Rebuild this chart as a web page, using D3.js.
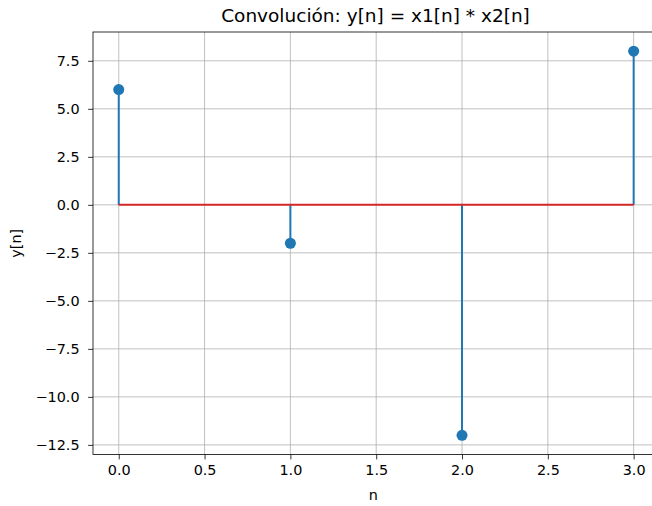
<!DOCTYPE html>
<html><head><meta charset="utf-8">
<script src="https://cdn.jsdelivr.net/npm/d3@7"></script>
<style>body{margin:0;background:#fff;}svg{display:block;font-family:"DejaVu Sans",sans-serif;}</style>
</head><body>
<svg id="c" width="652" height="506"></svg>
<script>
const nValues = [0, 1, 2, 3];
const yValues = [6, -2, -12, 8];
const xTicks = [0.0, 0.5, 1.0, 1.5, 2.0, 2.5, 3.0];
const yTicks = [-12.5, -10.0, -7.5, -5.0, -2.5, 0.0, 2.5, 5.0, 7.5];
const titleText = "Convolución: y[n] = x1[n] * x2[n]";
const xLabel = "n";
const yLabel = "y[n]";

const svg = d3.select("#c");
const L = 93, R = 659.4, T = 32, B = 454.5;
const x = d3.scaleLinear().domain([-0.15, 3.15]).range([L, R]);
const y = d3.scaleLinear().domain([-13, 9]).range([B, T]);
const blue = "#1f77b4";

const g = svg.append("g");
// grid
g.selectAll(".gx").data(xTicks).enter().append("line")
  .attr("x1", d => x(d)).attr("x2", d => x(d)).attr("y1", T).attr("y2", B)
  .attr("stroke", "#b0b0b0").attr("stroke-width", 0.8);
g.selectAll(".gy").data(yTicks).enter().append("line")
  .attr("x1", L).attr("x2", R).attr("y1", d => y(d)).attr("y2", d => y(d))
  .attr("stroke", "#b0b0b0").attr("stroke-width", 0.8);

// stems
g.selectAll(".stem").data(nValues).enter().append("line")
  .attr("x1", (d) => x(d)).attr("x2", d => x(d))
  .attr("y1", y(0)).attr("y2", (d, i) => y(yValues[i]))
  .attr("stroke", blue).attr("stroke-width", 2);
// baseline
g.append("line").attr("x1", x(d3.min(nValues))).attr("x2", x(d3.max(nValues)))
  .attr("y1", y(0)).attr("y2", y(0)).attr("stroke", "#d62728").attr("stroke-width", 2);
// markers
g.selectAll(".pt").data(nValues).enter().append("circle")
  .attr("cx", d => x(d)).attr("cy", (d, i) => y(yValues[i])).attr("r", 5.5).attr("fill", blue);

// axes
const xAxis = d3.axisBottom(x).tickValues(xTicks).tickFormat(d3.format(".1f")).tickSize(4.9).tickPadding(5.5);
const yAxis = d3.axisLeft(y).tickValues(yTicks).tickFormat(d => d3.format(".1f")(d).replace("-", "\u2212")).tickSize(4.9).tickPadding(8.5);
const ax = svg.append("g").attr("transform", `translate(0,${B})`).call(xAxis);
const ay = svg.append("g").attr("transform", `translate(${L},0)`).call(yAxis);
[ax, ay].forEach(a => {
  a.select(".domain").remove();
  a.selectAll(".tick line").attr("stroke", "#000").attr("stroke-width", 0.8);
  a.selectAll(".tick text").attr("fill", "#000").style("font-size", "14.4px").style("font-family", "DejaVu Sans");
});
// spines
svg.append("rect").attr("x", L).attr("y", T).attr("width", R - L).attr("height", B - T)
  .attr("fill", "none").attr("stroke", "#000").attr("stroke-width", 0.8);

svg.append("text").attr("x", 375.5).attr("y", 22).attr("text-anchor", "middle")
  .style("font-size", "18.5px").text(titleText);
svg.append("text").attr("x", (L + R) / 2 - 3).attr("y", 500).attr("text-anchor", "middle")
  .style("font-size", "14.4px").text(xLabel);
svg.append("text").attr("transform", `translate(21,${(T + B) / 2}) rotate(-90)`).attr("text-anchor", "middle")
  .style("font-size", "14.4px").text(yLabel);
</script>
</body></html>
